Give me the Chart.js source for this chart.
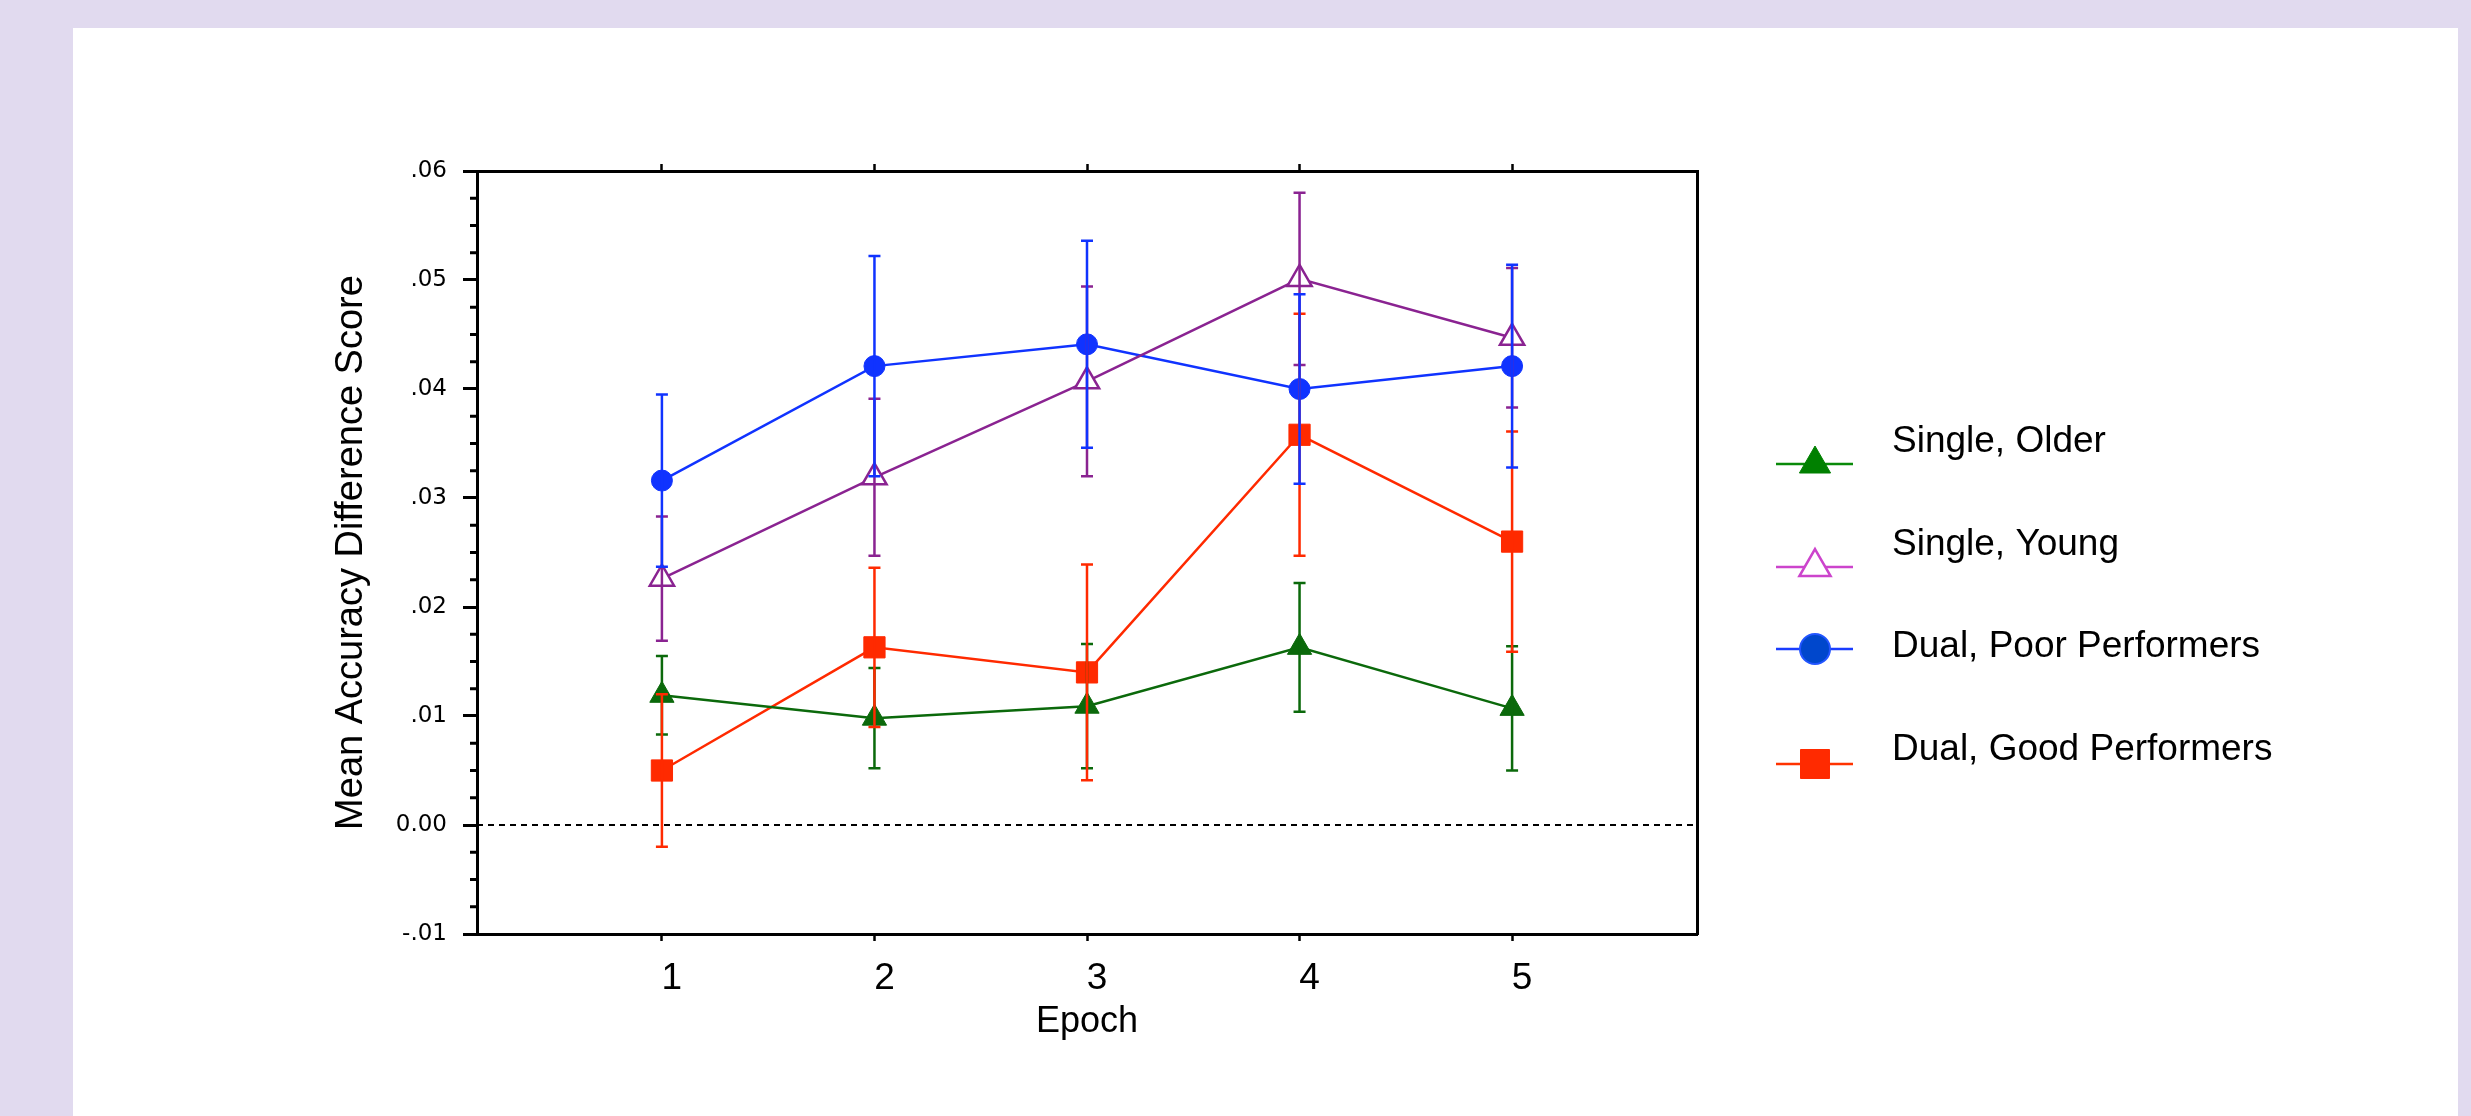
<!DOCTYPE html>
<html>
<head>
<meta charset="utf-8">
<script src="https://cdn.jsdelivr.net/npm/chart.js@4.4.1/dist/chart.umd.min.js"></script>
<style>
  html, body { margin: 0; padding: 0; background: #e1daef; }
  #panel { position: absolute; left: 73px; top: 28px; width: 2385px; height: 1088px; background: #fff; }
  #chart { display: block; }
</style>
</head>
<body>
<div id="panel"><canvas id="chart" width="2385" height="1088"></canvas></div>
<script>
// data
const epochs = [1, 2, 3, 4, 5];
const seriesNames = ["Single, Older", "Single, Young", "Dual, Poor Performers", "Dual, Good Performers"];

const singleOlder    = [0.0119, 0.0098, 0.0109, 0.0163, 0.0107];
const singleOlderErr = [0.0036, 0.0046, 0.0057, 0.0059, 0.0057];
const singleYoung    = [0.0226, 0.0319, 0.0407, 0.0501, 0.0447];
const singleYoungErr = [0.0057, 0.0072, 0.0087, 0.0079, 0.0064];
const dualPoor       = [0.0316, 0.0421, 0.0441, 0.0400, 0.0421];
const dualPoorErr    = [0.0079, 0.0101, 0.0095, 0.0087, 0.0093];
const dualGood       = [0.0050, 0.0163, 0.0140, 0.0358, 0.0260];
const dualGoodErr    = [0.0070, 0.0073, 0.0099, 0.0111, 0.0101];

const yTicks = [-0.01, 0, 0.01, 0.02, 0.03, 0.04, 0.05, 0.06];
const yTickLabels = ["-.01", "0.00", ".01", ".02", ".03", ".04", ".05", ".06"];

// styles
const plotColors = ["#0b690b", "#8a2391", "#1033ff", "#ff2a00"];
const legendStyles = [
    { line: "#0a8a0a", fill: "#008000", stroke: "#008000", style: "triangle", radius: 18, bw: 1 },
    { line: "#cc44cc", fill: "#ffffff", stroke: "#cc44cc", style: "triangle", radius: 18, bw: 2.5 },
    { line: "#1a3cff", fill: "#0047cc", stroke: "#2255ff", style: "circle", radius: 15, bw: 2 },
    { line: "#ff3300", fill: "#ff2a00", stroke: "#ff2a00", style: "rect", radius: 20.5, bw: 1 }
];
const legendLineY = [436, 539, 621, 736];
const legendTextY = [424, 527, 629, 732];

function points(vals) {
    return epochs.map((e, i) => ({ x: e, y: vals[i] }));
}

const errors = [singleOlderErr, singleYoungErr, dualPoorErr, dualGoodErr];
const values = [singleOlder, singleYoung, dualPoor, dualGood];

const errorBars = {
    id: "errorBars",
    afterDatasetsDraw(chart) {
        const ctx = chart.ctx;
        const xs = chart.scales.x, ys = chart.scales.y;
        ctx.save();
        ctx.lineWidth = 2.5;
        [0, 1, 3, 2].forEach(d => {
            ctx.strokeStyle = plotColors[d];
            epochs.forEach((e, i) => {
                const x = xs.getPixelForValue(e);
                const top = ys.getPixelForValue(values[d][i] + errors[d][i]);
                const bot = ys.getPixelForValue(values[d][i] - errors[d][i]);
                ctx.beginPath();
                ctx.moveTo(x, top); ctx.lineTo(x, bot);
                ctx.moveTo(x - 6, top); ctx.lineTo(x + 6, top);
                ctx.moveTo(x - 6, bot); ctx.lineTo(x + 6, bot);
                ctx.stroke();
            });
        });
        ctx.restore();
    },
    beforeDatasetsDraw(chart) {
        // dashed zero line and minor ticks on the left axis
        const ctx = chart.ctx;
        const a = chart.chartArea;
        const ys = chart.scales.y;
        ctx.save();
        const y0 = ys.getPixelForValue(0);
        ctx.strokeStyle = "#000";
        ctx.lineWidth = 2;
        ctx.setLineDash([6, 5]);
        ctx.beginPath();
        ctx.moveTo(a.left, y0); ctx.lineTo(a.right, y0);
        ctx.stroke();
        ctx.setLineDash([]);
        ctx.lineWidth = 3;
        for (let k = 0; k < yTicks.length - 1; k++) {
            const step = (yTicks[k + 1] - yTicks[k]) / 4;
            for (let m = 1; m < 4; m++) {
                const y = ys.getPixelForValue(yTicks[k] + m * step);
                ctx.beginPath();
                ctx.moveTo(a.left - 7, y); ctx.lineTo(a.left, y);
                ctx.stroke();
            }
        }
        ctx.restore();
    }
};

const sideLegend = {
    id: "sideLegend",
    afterDraw(chart) {
        const ctx = chart.ctx;
        const right = chart.chartArea.right;
        ctx.save();
        legendStyles.forEach((s, i) => {
            const ly = legendLineY[i];
            ctx.strokeStyle = s.line;
            ctx.lineWidth = 2.5;
            ctx.beginPath();
            ctx.moveTo(right + 79, ly); ctx.lineTo(right + 156, ly);
            ctx.stroke();
            ctx.fillStyle = s.fill;
            ctx.strokeStyle = s.stroke;
            ctx.lineWidth = s.bw;
            Chart.helpers.drawPoint(ctx, { pointStyle: s.style, radius: s.radius, rotation: 0, borderWidth: s.bw }, right + 118, ly);
            ctx.fillStyle = "#000";
            ctx.font = '37px "Liberation Sans"';
            ctx.textBaseline = "alphabetic";
            ctx.textAlign = "left";
            ctx.fillText(seriesNames[i], right + 195, legendTextY[i]);
        });
        ctx.restore();
    }
};

function dataset(i, vals, pointStyle, radius, bg, bw) {
    return {
        label: seriesNames[i],
        data: points(vals),
        borderColor: plotColors[i],
        borderWidth: 2.5,
        pointStyle: pointStyle,
        pointRadius: radius,
        pointBackgroundColor: bg,
        pointBorderColor: plotColors[i],
        pointBorderWidth: bw,
        tension: 0
    };
}

const xOpts = {
    type: "linear",
    min: 0.13,
    max: 5.87,
    afterBuildTicks: s => { s.ticks = epochs.map(v => ({ value: v })); },
    grid: { drawOnChartArea: false, tickLength: 7, tickWidth: 2.5, tickColor: "#000" },
    border: { color: "#000", width: 3 }
};

new Chart(document.getElementById("chart"), {
    type: "line",
    data: {
        datasets: [
            dataset(0, singleOlder, "triangle", 14, plotColors[0], 1),
            dataset(1, singleYoung, "triangle", 14, "#ffffff", 2.5),
            dataset(2, dualPoor, "circle", 10.5, plotColors[2], 1),
            dataset(3, dualGood, "rect", 15, plotColors[3], 1)
        ]
    },
    options: {
        responsive: false,
        animation: false,
        devicePixelRatio: 1,
        layout: { padding: { left: 244, right: 759, top: 133, bottom: 32 } },
        plugins: { legend: { display: false }, tooltip: { enabled: false } },
        scales: {
            x: Object.assign({}, xOpts, {
                position: "bottom",
                ticks: {
                    color: "#000", autoSkip: false, maxRotation: 0, padding: 16, labelOffset: 10,
                    font: { family: "Liberation Sans", size: 37 }
                },
                title: {
                    display: true, text: "Epoch", color: "#000",
                    font: { family: "Liberation Sans", size: 36 },
                    padding: { top: 0, bottom: 40 }
                },
                afterFit: s => { s.height = 150; }
            }),
            x2: Object.assign({}, xOpts, {
                position: "top",
                ticks: { display: false },
                afterFit: s => { s.height = 10; }
            }),
            y: {
                type: "linear",
                position: "left",
                min: -0.01,
                max: 0.06,
                afterBuildTicks: s => { s.ticks = yTicks.map(v => ({ value: v })); },
                ticks: {
                    color: "#000", autoSkip: false, padding: 16,
                    font: { family: "DejaVu Sans", size: 23 },
                    callback: (v, i) => yTickLabels[i]
                },
                grid: { drawOnChartArea: false, tickLength: 14, tickWidth: 3, tickColor: "#000" },
                border: { color: "#000", width: 3 },
                title: {
                    display: true, text: "Mean Accuracy Difference Score", color: "#000",
                    font: { family: "Liberation Sans", size: 38 },
                    padding: { top: 12, bottom: 0 }
                },
                afterFit: s => { s.width = 160; }
            },
            y2: {
                type: "linear",
                position: "right",
                min: -0.01,
                max: 0.06,
                ticks: { display: false },
                grid: { drawOnChartArea: false, drawTicks: false },
                border: { color: "#000", width: 3 },
                afterFit: s => { s.width = 2; }
            }
        }
    },
    plugins: [errorBars, sideLegend]
});
</script>
</body>
</html>
